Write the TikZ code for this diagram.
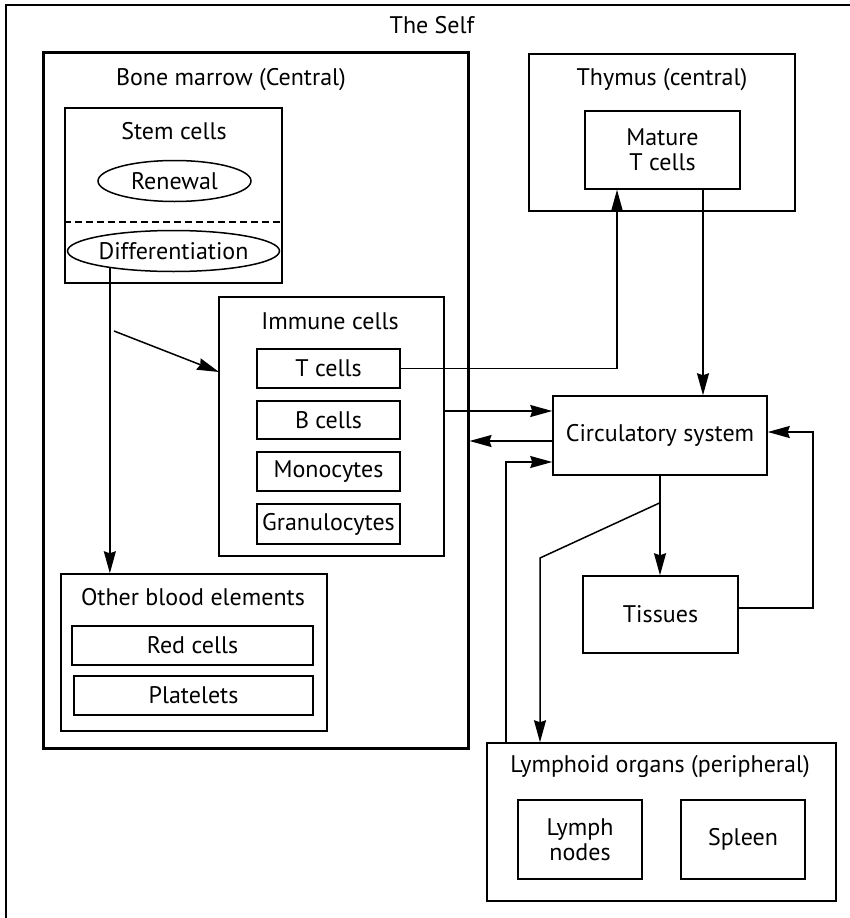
\documentclass[tikz,border=0pt]{standalone}
\usepackage{fontspec}
\setmainfont{PT Sans}
\usetikzlibrary{arrows.meta,shapes.geometric,calc}
\begin{document}
\begin{tikzpicture}[x=1pt,y=-1pt,
  font=\fontsize{24}{25}\selectfont,
  box/.style={draw,line width=1.5pt,inner sep=0pt,align=center},
  oval/.style={draw,ellipse,line width=1.5pt,inner sep=0pt},
  lbl/.style={inner sep=0pt,align=center},
  wire/.style={line width=1.5pt},
  arr/.style={line width=1.5pt,-{Stealth[length=22pt,width=12pt,inset=2pt]}}]
\useasboundingbox (0,0) rectangle (850,918);

% outer frame of the self
\draw[line width=2.4pt] (6,918) -- (6,5) -- (850,5);
\node[lbl] (self) at (432,25) {The Self};

% bone marrow
\node[box,line width=3pt,minimum width=425pt,minimum height=696pt] (bm) at (255.5,400) {};
\node[lbl] (bmlabel) at (231,80) {Bone marrow (Central)};

% stem cells
\node[box,minimum width=217pt,minimum height=175pt] (stem) at (173.5,195.5) {};
\node[lbl] (stemlabel) at (174,131) {Stem cells};
\node[oval,minimum width=153pt,minimum height=41pt] (ren) at (174.5,181) {Renewal};
\draw[wire,dashed,dash pattern=on 7pt off 4pt] (stem.west |- 0,222) -- (stem.east |- 0,222);
\node[oval,minimum width=189pt,minimum height=41pt] (diff) at (173.5,251) {Differentiation};

% immune cells
\node[box,minimum width=225pt,minimum height=259pt] (imm) at (331.5,426.5) {};
\node[lbl] (immlabel) at (330,321) {Immune cells};
\node[box,minimum width=143pt,minimum height=39pt] (tc) at (328.5,368.5) {T cells};
\node[box,minimum width=143pt,minimum height=38pt] (bc) at (328.5,420) {B cells};
\node[box,minimum width=143pt,minimum height=39pt] (mono) at (328.5,471.5) {Monocytes};
\node[box,minimum width=143pt,minimum height=40pt] (gran) at (328.5,524) {Granulocytes};

% other blood elements
\node[box,minimum width=266pt,minimum height=157pt] (oth) at (194,652.5) {};
\node[lbl] (othlabel) at (193,597) {Other blood elements};
\node[box,minimum width=241pt,minimum height=39pt] (red) at (192.5,645.5) {Red cells};
\node[box,minimum width=239pt,minimum height=39pt] (plat) at (193.5,695.5) {Platelets};

% thymus
\node[box,minimum width=266pt,minimum height=157pt] (thy) at (662,132.5) {};
\node[lbl] (thylabel) at (662,80) {Thymus (central)};
\node[box,minimum width=155pt,minimum height=78pt] (mat) at (662.5,150) {Mature\\T cells};

% circulation, tissues, lymphoid organs
\node[box,minimum width=214pt,minimum height=79pt] (circ) at (660,435.5) {Circulatory system};
\node[box,minimum width=155pt,minimum height=77pt] (tis) at (660.5,614.5) {Tissues};
\node[box,minimum width=349pt,minimum height=158pt] (lym) at (661.5,822) {};
\node[lbl] (lymlabel) at (660,767) {Lymphoid organs (peripheral)};
\node[box,minimum width=124pt,minimum height=79pt] (ln) at (580,839.5) {Lymph\\nodes};
\node[box,minimum width=124pt,minimum height=79pt] (spl) at (743,839.5) {Spleen};

% junction points
\coordinate (dsplit) at (114,331);
\coordinate (immin) at (219,372);
\coordinate (tup) at ($(mat.south)+(-45.5,0)$);
\coordinate (tdown) at ($(mat.south)+(40.5,0)$);
\coordinate (immout) at ($(imm.east)+(0,-15.5)$);
\coordinate (circback) at ($(circ.west)+(0,5.5)$);
\coordinate (lymout) at (506,743);
\coordinate (circin) at ($(circ.west)+(0,26.5)$);
\coordinate (csplit) at ($(circ.south)+(0,27)$);
\coordinate (bend) at (540,558);
\coordinate (tisout) at ($(tis.east)+(0,-6.5)$);
\coordinate (circright) at ($(circ.east)+(0,-3.5)$);

% connectors
\draw[arr] (diff.195) -- (diff.195 |- oth.north);
\draw[arr] (dsplit) -- (immin);
\draw[arr] (tc.east) -| (tup);
\draw[arr] (tdown) -- (tdown |- circ.north);
\draw[arr] (immout) -- (immout -| circ.west);
\draw[arr] (circback) -- (circback -| bm.east);
\draw[arr] (lymout) |- (circin);
\draw[arr] (circ.south) -- (circ.south |- tis.north);
\draw[arr] (csplit) -- (bend) -- (bend |- lym.north);
\draw[arr] (tisout) -- ++(74,0) |- (circright);
\end{tikzpicture}
\end{document}
